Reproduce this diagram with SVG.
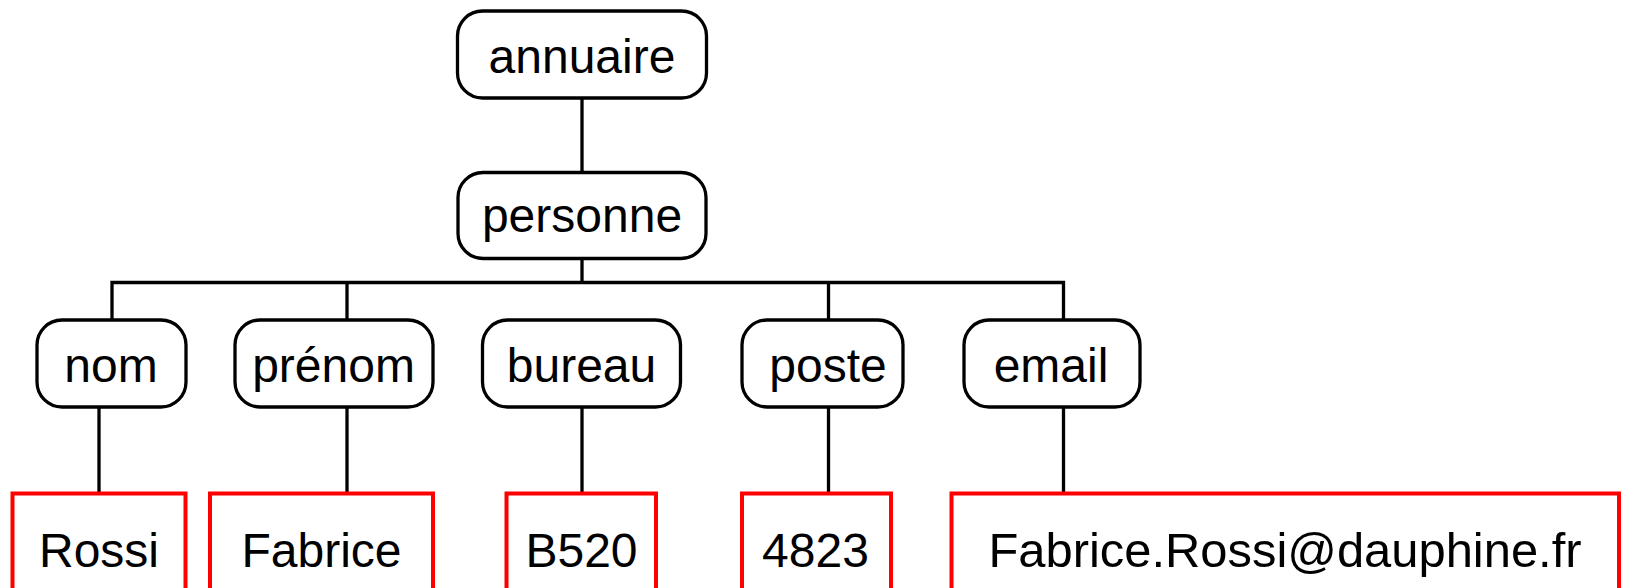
<svg xmlns="http://www.w3.org/2000/svg" width="1627" height="588" viewBox="0 0 1627 588">
<style>
.n{fill:#fff;stroke:#000;stroke-width:3.3}
.v{fill:#fff;stroke:#f00;stroke-width:4}
.c{stroke:#000;stroke-width:3.3;fill:none}
text{font-family:"Liberation Sans",Arial,sans-serif;font-size:48px;fill:#000;text-anchor:middle}
</style>
<rect width="1627" height="588" fill="#fff"/>
<g id="connectors">
<line class="c" x1="582" y1="98" x2="582" y2="172"/>
<line class="c" x1="582" y1="258" x2="582" y2="282.5"/>
<polyline class="c" points="112,320 112,282.5 1063.5,282.5 1063.5,320"/>
<line class="c" x1="347" y1="282.5" x2="347" y2="320"/>
<line class="c" x1="828.5" y1="282.5" x2="828.5" y2="320"/>
<line class="c" x1="99" y1="407" x2="99" y2="493"/>
<line class="c" x1="347" y1="407" x2="347" y2="493"/>
<line class="c" x1="582" y1="407" x2="582" y2="493"/>
<line class="c" x1="828.5" y1="407" x2="828.5" y2="493"/>
<line class="c" x1="1063.5" y1="407" x2="1063.5" y2="493"/>
</g>
<g id="annuaire"><rect class="n" x="457.5" y="11" width="249" height="87" rx="25"/><text x="582" y="73">annuaire</text></g>
<g id="personne"><rect class="n" x="458" y="172.5" width="248" height="86" rx="25"/><text x="582" y="232">personne</text></g>
<g id="nom"><rect class="n" x="37" y="320" width="149" height="87" rx="25"/><text x="111" y="382">nom</text></g>
<g id="prenom"><rect class="n" x="235" y="320" width="198" height="87" rx="25"/><text x="333.5" y="382">prénom</text></g>
<g id="bureau"><rect class="n" x="482.5" y="320" width="198" height="87" rx="25"/><text x="581.5" y="382">bureau</text></g>
<g id="poste"><rect class="n" x="742" y="320" width="161" height="87" rx="25"/><text x="828" y="382">poste</text></g>
<g id="email"><rect class="n" x="964" y="320" width="176" height="87" rx="25"/><text x="1051" y="382">email</text></g>
<g id="v-rossi"><rect class="v" x="12.5" y="493.5" width="173" height="110"/><text x="99" y="567">Rossi</text></g>
<g id="v-fabrice"><rect class="v" x="210" y="493.5" width="223" height="110"/><text x="321.5" y="567">Fabrice</text></g>
<g id="v-b520"><rect class="v" x="506.5" y="493.5" width="149.5" height="110"/><text x="581.5" y="567">B520</text></g>
<g id="v-4823"><rect class="v" x="742" y="493.5" width="149" height="110"/><text x="815.5" y="567">4823</text></g>
<g id="v-email"><rect class="v" x="951.5" y="493.5" width="667.5" height="110"/><text x="1285" y="567" textLength="593" lengthAdjust="spacingAndGlyphs">Fabrice.Rossi@dauphine.fr</text></g>
</svg>
